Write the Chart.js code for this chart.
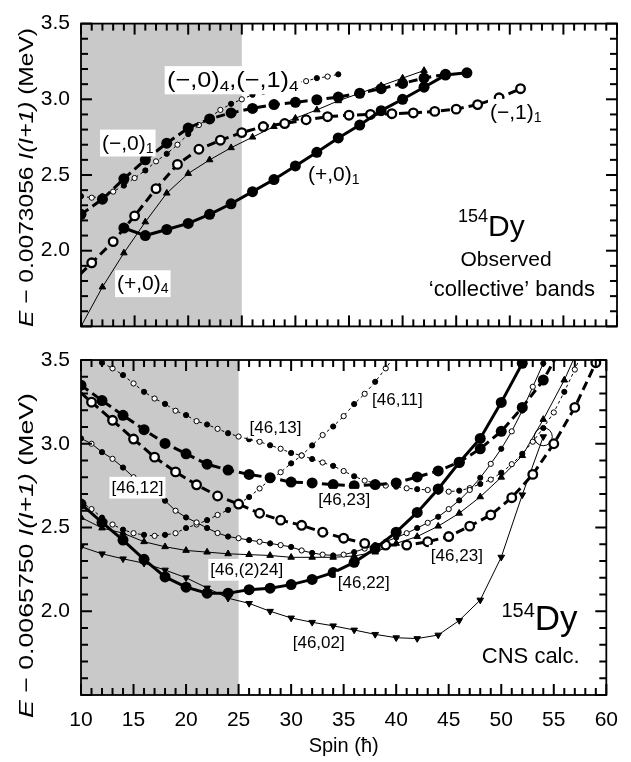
<!DOCTYPE html>
<html lang="en">
<head>
<meta charset="UTF-8">
<title>154Dy collective bands</title>
<script src="https://cdn.jsdelivr.net/npm/chart.js@4.4.1/dist/chart.umd.min.js"></script>
<style>
  body { margin: 0; background: #fff; }
  #wrap { position: relative; width: 631px; height: 762px; }
  canvas { position: absolute; left: 0; }
  #topChart { top: 0; }
  #botChart { top: 336px; }
</style>
</head>
<body>
<div id="wrap">
  <canvas id="topChart" width="631" height="350"></canvas>
  <canvas id="botChart" width="631" height="426"></canvas>
</div>
<script>
const FONT = '"Liberation Sans", Arial, sans-serif';

// ---- observed bands (upper panel), E - 0.0073056 I(I+1) ----
const obsP01Spin = [14,16,18,20,22,24,26,28,30,32,34,36,38,40,42,44,46];
const obsP01E    = [2.15,2.10,2.14,2.18,2.24,2.31,2.39,2.47,2.56,2.65,2.745,2.83,2.925,3.00,3.08,3.16,3.175];

const obsM01Spin = [10,12,14,16,18,20,22,24,26,28,30,32,34,36,38,40,42,44];
const obsM01E    = [2.24,2.34,2.475,2.60,2.71,2.81,2.87,2.91,2.94,2.965,2.98,2.997,3.015,3.04,3.07,3.105,3.14,3.165];

const obsM11Spin = [9,11,13,15,17,19,21,23,25,27,29,31,33,35,37,39,41,43,45,47,49,51];
const obsM11E    = [1.78,1.92,2.06,2.23,2.41,2.57,2.67,2.73,2.78,2.82,2.84,2.865,2.885,2.895,2.90,2.905,2.91,2.92,2.935,2.965,3.01,3.07];

const obsM04Spin = [10,11,12,13,14,15,16,17,18,19,20,21,22,23,24,25,26,27,28,29,30,31,32,33,34];
const obsM04E    = [2.36,2.35,2.36,2.39,2.43,2.48,2.53,2.59,2.64,2.70,2.77,2.83,2.88,2.93,2.97,3.00,3.03,3.05,3.075,3.10,3.11,3.12,3.14,3.15,3.165];

const obsP04Spin = [10,12,14,16,18,20,22,24,26,28,30,32,34,36,38,40,42];
const obsP04E    = [1.50,1.76,1.985,2.19,2.38,2.51,2.60,2.68,2.75,2.82,2.875,2.93,2.99,3.04,3.09,3.14,3.19];

// ---- CNS calculation (lower panel), E - 0.0065750 I(I+1) ----
const c22Spin = [10,12,14,16,18,20,22,24,26,28,30,32,34,36,38,40,42,44,46,48,50,52,54];
const c22E    = [2.64,2.53,2.425,2.31,2.205,2.144,2.108,2.108,2.129,2.138,2.159,2.19,2.231,2.292,2.375,2.472,2.59,2.73,2.888,3.032,3.247,3.48,3.79];

const c02Spin = [10,12,14,16,18,20,22,24,26,28,30,32,34,36,38,40,42,44,46,48,50,52,54];
const c02E    = [2.385,2.343,2.313,2.287,2.246,2.20,2.139,2.078,2.047,2.00,1.96,1.934,1.913,1.888,1.862,1.842,1.837,1.858,1.945,2.067,2.323,2.695,3.042];

const c224Spin = [10,12,14,16,18,20,22,24,26,28,30,32,34,36,38,40,42,44,46,48,50,52,54,56,58];
const c224E    = [2.56,2.497,2.466,2.415,2.385,2.363,2.353,2.343,2.338,2.333,2.322,2.322,2.322,2.33,2.353,2.405,2.446,2.508,2.585,2.683,2.80,2.929,3.145,3.38,3.66];

const c12Spin = [10,11,12,13,14,15,16,17,18,19,20,21,22,23,24,25,26,27,28,29,30,31,32,33,34,35,36,37,38,39,40,41,42,43,44,45,46,47,48,49,50,51,52,53,54,55];
const c12E    = [3.032,3.00,2.95,2.91,2.858,2.80,2.755,2.703,2.66,2.60,2.56,2.53,2.497,2.467,2.446,2.436,2.425,2.415,2.405,2.395,2.384,2.363,2.348,2.338,2.333,2.338,2.353,2.374,2.395,2.415,2.44,2.466,2.497,2.528,2.564,2.61,2.662,2.724,2.797,2.88,2.97,3.074,3.198,3.34,3.48,3.64];

const c13Spin = [10,11,12,13,14,15,16,17,18,19,20,21,22,23,24,25,26,27,28,29,30,31,32,33,34,35,36,37,38,39,40,41,42,43,44,45,46,47,48,49,50,51,52,53,54,55,56,57,58];
const c13E    = [3.61,3.546,3.484,3.45,3.41,3.36,3.31,3.27,3.238,3.197,3.171,3.135,3.115,3.089,3.063,3.043,3.027,3.012,2.991,2.97,2.945,2.93,2.909,2.888,2.868,2.837,2.806,2.78,2.765,2.75,2.744,2.734,2.729,2.724,2.714,2.714,2.72,2.735,2.76,2.786,2.827,2.878,2.94,3.012,3.094,3.187,3.31,3.443,3.587];

const c11Spin = [10,11,12,13,14,15,16,17,18,19,20,21,22,23,24,25,26,27,28,29,30,31,32,33,34,35,36,37,38,39,40,41];
const c11E    = [2.652,2.61,2.559,2.518,2.487,2.466,2.456,2.45,2.456,2.466,2.497,2.518,2.544,2.575,2.605,2.64,2.682,2.733,2.785,2.83,2.883,2.93,2.99,3.052,3.103,3.165,3.237,3.298,3.37,3.45,3.536,3.62];

const c23fSpin = [10,12,14,16,18,20,22,24,26,28,30,32,34,36,38,40,42,44,46,48,50,52,54,56];
const c23fE    = [3.35,3.258,3.17,3.084,3.002,2.94,2.878,2.843,2.817,2.797,2.771,2.766,2.756,2.75,2.756,2.766,2.802,2.838,2.89,2.97,3.074,3.217,3.38,3.605];

const c23oSpin = [9,11,13,15,17,19,21,23,25,27,29,31,33,35,37,39,41,43,45,47,49,51,53,55,57,59];
const c23oE    = [3.36,3.248,3.14,3.028,2.92,2.832,2.755,2.688,2.64,2.585,2.544,2.513,2.472,2.436,2.405,2.395,2.395,2.415,2.446,2.508,2.575,2.678,2.817,3.00,3.217,3.484];

const circledSpin = [54];
const circledE    = [3.042];

// tick values of the frame (minor every 1 / 0.1, major every 5 / 0.5)
const spinTicks = [10,11,12,13,14,15,16,17,18,19,20,21,22,23,24,25,26,27,28,29,30,31,32,33,34,35,36,37,38,39,40,41,42,43,44,45,46,47,48,49,50,51,52,53,54,55,56,57,58,59,60];
const energyTicks = [1.5,1.6,1.7,1.8,1.9,2.0,2.1,2.2,2.3,2.4,2.5,2.6,2.7,2.8,2.9,3.0,3.1,3.2,3.3,3.4,3.5];

function pts(s, e) { return s.map((v, i) => ({ x: v, y: e[i] })); }

// line / marker styles
const thickFilled = { borderColor: '#000', borderWidth: 3, pointRadius: 5.5, pointBackgroundColor: '#000', pointBorderColor: '#000', pointBorderWidth: 0 };
const thickOpen   = { borderColor: '#000', borderWidth: 3, pointRadius: 4.3, pointBackgroundColor: '#fff', pointBorderColor: '#000', pointBorderWidth: 2.3 };
const alternate   = { borderColor: '#000', borderWidth: 1, pointRadius: 2.6, pointBorderWidth: 1, pointBorderColor: '#000',
                      pointBackgroundColor: c => (c.raw && c.raw.x % 2 === 0) ? '#000' : '#fff' };
const triUp       = { borderColor: '#000', borderWidth: 1, pointStyle: 'triangle', pointRadius: 3.8, pointBackgroundColor: '#000', pointBorderColor: '#000', pointBorderWidth: 1 };
const triDown     = Object.assign({}, triUp, { pointRotation: 180 });
const longDash = [9, 5], shortDash = [3, 3];

function seg(t, size, o) { return Object.assign({ t, size }, o || {}); }
function rich(ctx, item, px, py) {
  const fnt = p => (p.it ? 'italic ' : '') + p.size + 'px ' + FONT;
  let w = 0;
  const ws = item.parts.map(p => { ctx.font = fnt(p); const m = ctx.measureText(p.t).width; w += m; return m; });
  const sx = item.len ? item.len / w : (item.sx || 1);
  const x0 = item.align === 'center' ? -w / 2 : 0;
  const main = item.parts[0].size;
  ctx.save();
  ctx.translate(px, py);
  if (item.rot) ctx.rotate(item.rot);
  ctx.scale(sx, 1);
  if (item.box) {
    ctx.fillStyle = '#fff';
    ctx.fillRect(x0 - 2, -main * 0.95, w + 4, main * 1.28);
  }
  ctx.fillStyle = '#000';
  ctx.textBaseline = 'alphabetic';
  ctx.textAlign = 'left';
  let cx = x0;
  item.parts.forEach((p, i) => { ctx.font = fnt(p); ctx.fillText(p.t, cx, p.dy || 0); cx += ws[i]; });
  ctx.restore();
}

// frame with inward ticks on all four sides
const frameTicks = {
  id: 'frameTicks',
  afterDraw(chart) {
    const ctx = chart.ctx, a = chart.chartArea, x = chart.scales.x, y = chart.scales.y;
    ctx.save();
    ctx.fillStyle = '#000';
    for (const s of spinTicks) {
      const px = x.getPixelForValue(s);
      const len = s % 5 === 0 ? 11 : 7;
      ctx.fillRect(px - 1, a.bottom - len, 2, len);
      ctx.fillRect(px - 1, a.top, 2, len);
    }
    for (let i = 0; i < energyTicks.length; i++) {
      const py = y.getPixelForValue(energyTicks[i]);
      const len = i % 5 === 0 ? 11 : 7;
      ctx.fillRect(a.left, py - 1, len, 2);
      ctx.fillRect(a.right - len, py - 1, len, 2);
    }
    ctx.strokeStyle = '#000';
    ctx.lineWidth = 1.8;
    ctx.strokeRect(a.left, a.top, a.right - a.left, a.bottom - a.top);
    ctx.restore();
  }
};

const decor = {
  id: 'decor',
  beforeDatasetsDraw(chart, args, o) {
    const { ctx, chartArea: a, scales: { x } } = chart;
    const x0 = x.getPixelForValue(o.shade[0]), x1 = x.getPixelForValue(o.shade[1]);
    ctx.save();
    ctx.fillStyle = '#c9c9c9';
    ctx.fillRect(x0, a.top, x1 - x0, a.bottom - a.top);
    ctx.restore();
  },
  afterDatasetsDraw(chart, args, o) {
    const { ctx, scales: { x, y } } = chart;
    o.labels.forEach(l => rich(ctx, l, x.getPixelForValue(l.x), y.getPixelForValue(l.y)));
    rich(ctx, o.title, o.title.px, o.title.py);
  }
};

function yAxis() {
  return {
    min: 1.5, max: 3.5,
    afterFit(s) { s.width = 81; },
    grid: { display: false, drawTicks: false },
    border: { display: false },
    ticks: { stepSize: 0.5, padding: 11, color: '#000', font: { family: FONT, size: 21 },
             callback: v => Math.abs(v - 1.5) < 1e-6 ? '' : v.toFixed(1) }
  };
}

function yTitle(num, py, len) {
  return { px: 33, py, len, rot: -Math.PI / 2, align: 'center',
           parts: [seg('E', 21, { it: true }), seg(' \u2212 ' + num + ' ', 21), seg('I(I+1)', 21, { it: true }), seg(' (MeV)', 21)] };
}

const baseOpts = {
  responsive: false, animation: false, devicePixelRatio: 1,
  plugins: { legend: { display: false }, tooltip: { enabled: false } },
  elements: { line: { tension: 0, fill: false } }
};

Chart.defaults.font.family = FONT;
Chart.defaults.color = '#000';

// upper panel
new Chart(document.getElementById('topChart'), {
  type: 'line',
  data: { datasets: [
    Object.assign({ data: pts(obsP01Spin, obsP01E) }, thickFilled),
    Object.assign({ data: pts(obsM01Spin, obsM01E), borderDash: longDash }, thickFilled),
    Object.assign({ data: pts(obsM11Spin, obsM11E), borderDash: longDash }, thickOpen),
    Object.assign({ data: pts(obsM04Spin, obsM04E), borderDash: shortDash }, alternate),
    Object.assign({ data: pts(obsP04Spin, obsP04E) }, triUp)
  ]},
  options: Object.assign({}, baseOpts, {
    layout: { padding: { top: 13, right: 14, bottom: 3, left: 0 } },
    scales: { x: { type: 'linear', min: 10, max: 60, display: false }, y: yAxis() },
    plugins: Object.assign({}, baseOpts.plugins, { decor: {
      shade: [10, 25],
      title: yTitle('0.0073056', 177.5, 299),
      labels: [
        { x: 18.02, y: 3.081, box: true, sx: 1.15, parts: [seg('(\u2212,0)', 22), seg('4', 15, { dy: 4 }), seg(',(\u2212,1)', 22), seg('4', 15, { dy: 4 })] },
        { x: 11.96, y: 2.668, box: true, parts: [seg('(\u2212,0)', 21), seg('1', 14, { dy: 3 })] },
        { x: 13.36, y: 1.739, box: true, parts: [seg('(+,0)', 21), seg('4', 14, { dy: 3 })] },
        { x: 31.17, y: 2.458, box: true, parts: [seg('(+,0)', 21), seg('1', 14, { dy: 3 })] },
        { x: 48.15, y: 2.871, box: true, parts: [seg('(\u2212,1)', 21), seg('1', 14, { dy: 3 })] },
        { x: 45.17, y: 2.099, parts: [seg('154', 18, { dy: -14 }), seg('Dy', 30)] },
        { x: 49.65, y: 1.901, align: 'center', parts: [seg('Observed', 21)] },
        { x: 50.2, y: 1.704, align: 'center', parts: [seg('\u2018collective\u2019 bands', 22)] }
      ]
    }})
  }),
  plugins: [decor, frameTicks]
});

// lower panel
new Chart(document.getElementById('botChart'), {
  type: 'line',
  data: { datasets: [
    Object.assign({ data: pts(circledSpin, circledE), showLine: false }, { pointRadius: 9, pointBackgroundColor: 'rgba(0,0,0,0)', pointBorderColor: '#000', pointBorderWidth: 1 }),
    Object.assign({ data: pts(c22Spin, c22E) }, thickFilled),
    Object.assign({ data: pts(c23fSpin, c23fE), borderDash: longDash }, thickFilled),
    Object.assign({ data: pts(c23oSpin, c23oE), borderDash: longDash }, thickOpen),
    Object.assign({ data: pts(c12Spin, c12E) }, alternate),
    Object.assign({ data: pts(c13Spin, c13E), borderDash: shortDash }, alternate),
    Object.assign({ data: pts(c11Spin, c11E), borderDash: shortDash }, alternate),
    Object.assign({ data: pts(c224Spin, c224E) }, triUp),
    Object.assign({ data: pts(c02Spin, c02E) }, triDown)
  ]},
  options: Object.assign({}, baseOpts, {
    layout: { padding: { top: 24, right: 14, bottom: 0, left: 0 } },
    scales: {
      x: { type: 'linear', min: 10, max: 60,
           afterFit(s) { s.height = 67; },
           grid: { display: false, drawTicks: false }, border: { display: false },
           ticks: { stepSize: 5, padding: 13, maxRotation: 0, autoSkip: false, color: '#000', font: { family: FONT, size: 21 } },
           title: { display: true, text: 'Spin (\u0127)', color: '#000', font: { family: FONT, size: 20 }, padding: { top: 0, bottom: 4 } } },
      y: yAxis()
    },
    plugins: Object.assign({}, baseOpts.plugins, { decor: {
      shade: [10, 25],
      title: yTitle('0.0065750', 219.5, 325),
      labels: [
        { x: 26.04, y: 3.064, box: true, parts: [seg('[46,13]', 17)] },
        { x: 37.7,  y: 3.231, box: true, parts: [seg('[46,11]', 17)] },
        { x: 12.9,  y: 2.706, box: true, parts: [seg('[46,12]', 17)] },
        { x: 32.57, y: 2.634, box: true, parts: [seg('[46,23]', 17)] },
        { x: 43.3,  y: 2.30,  box: true, parts: [seg('[46,23]', 17)] },
        { x: 22.31, y: 2.216, box: true, parts: [seg('[46,(2)24]', 17)] },
        { x: 34.44, y: 2.139, box: true, parts: [seg('[46,22]', 17)] },
        { x: 30.15, y: 1.781, box: true, parts: [seg('[46,02]', 17)] },
        { x: 50.02, y: 1.888, parts: [seg('154', 20, { dy: -13 }), seg('Dy', 35)] },
        { x: 48.15, y: 1.691, parts: [seg('CNS calc.', 22)] }
      ]
    }})
  }),
  plugins: [decor, frameTicks]
});
</script>
</body>
</html>
